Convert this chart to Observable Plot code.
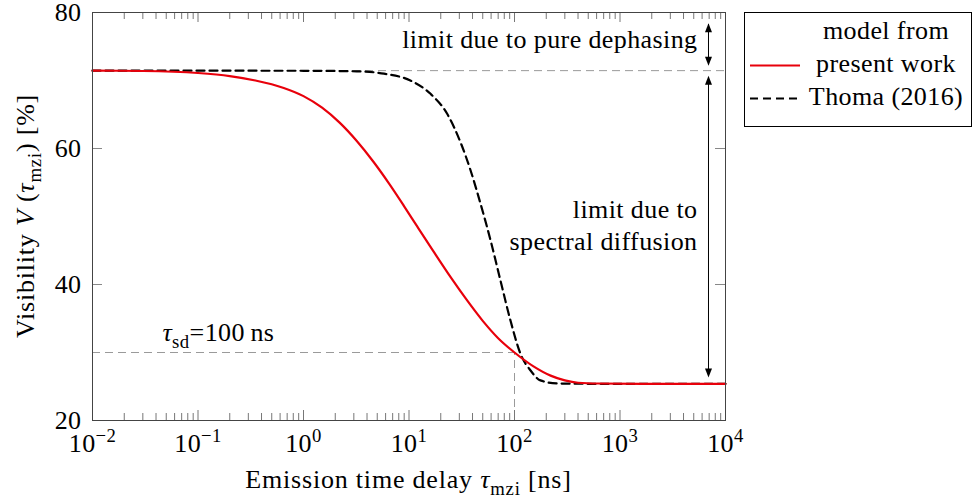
<!DOCTYPE html>
<html>
<head>
<meta charset="utf-8">
<script src="https://cdn.jsdelivr.net/npm/d3@7"></script>
<script src="https://cdn.jsdelivr.net/npm/@observablehq/plot@0.6"></script>
<style>
  body { margin: 0; background: #fff; }
  #wrap { position: relative; width: 973px; height: 501px; font-family: "Liberation Serif", serif; }
  #legend { position: absolute; left: 744px; top: 12px; }
</style>
</head>
<body>
<div id="wrap"></div>
<script>
// Visibility vs. emission time delay (τ in ns, V in %)
const tauModel = [0.01, 0.03, 0.1, 0.2, 0.35, 0.65, 1.0, 1.5, 2.2, 3.2, 4.6, 6.5, 9, 12, 17, 25, 35, 50, 70, 100, 150, 220, 300, 400, 630, 1600, 10000];
const visModel = [71.45, 71.4, 71.1, 70.65, 70.0, 68.9, 67.7, 66.0, 63.8, 61.1, 58.05, 54.8, 51.5, 48.5, 44.9, 41.0, 37.8, 34.65, 32.1, 30.0, 28.0, 26.6, 25.9, 25.55, 25.44, 25.4, 25.4];

const tauThoma = [0.01, 1, 3.2, 5.8, 10.3, 16, 23, 30.8, 38.3, 47.6, 59.3, 73.6, 91.6, 114, 142, 176, 251, 500, 10000];
const visThoma = [71.45, 71.43, 71.35, 71.0, 70.0, 68.04, 65.1, 60.9, 56.8, 51.9, 46.5, 40.6, 34.7, 29.8, 27.35, 25.9, 25.45, 25.4, 25.4];

const xTicks = [1e-2, 1e-1, 1e0, 1e1, 1e2, 1e3, 1e4];
const yTicks = [20, 40, 60, 80];
const xMinor = xTicks.slice(0, -1).flatMap(d => [2, 3, 4, 5, 6, 7, 8, 9].map(k => k * d));

const V0 = visModel[0];                     // limit due to pure dephasing
const Vinf = visModel[visModel.length - 1]; // long-delay plateau
const tauSD = 100;
const VatSD = visModel[tauModel.indexOf(tauSD)];
const arrowTau = 6900;
const [xMin, xMax] = [1e-2, 1e4];
const [yMin, yMax] = [20, 80];

const model = tauModel.map((t, i) => ({t, v: visModel[i]}));
const thoma = tauThoma.map((t, i) => ({t, v: visThoma[i]}));

const FS = 26;
const gray = "#9a9a9a";
const red = "#e8000b";

const plot = Plot.plot({
  width: 973,
  height: 501,
  marginLeft: 92,
  marginRight: 248,
  marginTop: 12,
  marginBottom: 81,
  style: {fontFamily: "Liberation Serif", fontSize: FS + "px", letterSpacing: "0.4px", color: "black", background: "white", overflow: "visible"},
  x: {type: "log", domain: [xMin, xMax], ticks: xTicks, tickSize: 0, tickPadding: 13,
      tickFormat: d => "10^" + Math.round(Math.log10(d)), label: null},
  y: {domain: [yMin, yMax], ticks: yTicks, tickSize: 0, tickPadding: 11, label: null},
  marks: [
    // reference levels
    Plot.ruleY([V0], {x1: xMin, x2: xMax, stroke: gray, strokeDasharray: "8,5"}),
    Plot.ruleY([VatSD], {x1: xMin, x2: tauSD, stroke: gray, strokeDasharray: "8,5"}),
    Plot.ruleX([tauSD], {y1: yMin, y2: VatSD, stroke: gray, strokeDasharray: "8,5"}),

    // curves
    Plot.line(thoma, {x: "t", y: "v", stroke: "black", strokeWidth: 2.2, strokeDasharray: "8,5", curve: "monotone-x"}),
    Plot.line(model, {x: "t", y: "v", stroke: red, strokeWidth: 2.2, curve: "monotone-x"}),

    // frame and inward ticks
    Plot.ruleX(xTicks, {y1: yMin, y2: yMin, insetBottom: 10, stroke: "#777"}),
    Plot.ruleX(xTicks, {y1: yMax, y2: yMax, insetTop: 10, stroke: "#777"}),
    Plot.ruleX(xMinor, {y1: yMin, y2: yMin, insetBottom: 7, stroke: "#777"}),
    Plot.ruleX(xMinor, {y1: yMax, y2: yMax, insetTop: 7, stroke: "#777"}),
    Plot.ruleY(yTicks, {x1: xMin, x2: xMin, insetRight: -10, stroke: "#888"}),
    Plot.ruleY(yTicks, {x1: xMax, x2: xMax, insetLeft: -10, stroke: "#888"}),
    Plot.frame({stroke: "#444"}),

    // double arrows marking the two limits
    Plot.ruleX([arrowTau], {y1: yMax, y2: V0, insetTop: 12, insetBottom: 7, stroke: "black"}),
    Plot.ruleX([arrowTau], {y1: V0, y2: Vinf, insetTop: 7, insetBottom: 8, stroke: "black"}),
    Plot.vector([{x: arrowTau, y: yMax}], {x: "x", y: "y", dy: 10.7, rotate: 0, length: 9, r: 3.5, shape: "spike", anchor: "end", fill: "black", stroke: "none"}),
    Plot.vector([{x: arrowTau, y: V0}], {x: "x", y: "y", dy: -5, rotate: 180, length: 9, r: 3.5, shape: "spike", anchor: "end", fill: "black", stroke: "none"}),
    Plot.vector([{x: arrowTau, y: V0}], {x: "x", y: "y", dy: 5, rotate: 0, length: 9, r: 3.5, shape: "spike", anchor: "end", fill: "black", stroke: "none"}),
    Plot.vector([{x: arrowTau, y: Vinf}], {x: "x", y: "y", dy: -6.3, rotate: 180, length: 9, r: 3.5, shape: "spike", anchor: "end", fill: "black", stroke: "none"}),

    // annotations
    Plot.text([{x: arrowTau, y: (yMax + V0) / 2}], {x: "x", y: "y", text: () => "limit due to pure dephasing", textAnchor: "end", dx: -11, dy: -2}),
    Plot.text([{x: arrowTau, y: 48.9}], {x: "x", y: "y", text: () => "limit due to\nspectral diffusion", textAnchor: "end", dx: -11, lineHeight: 1.2}),
    Plot.text([{x: 0.156, y: 32.9}], {x: "x", y: "y", text: () => "τsd=100\u2009ns"})
  ]
});

// Build mixed-style text (italic symbols, sub/superscripts) inside an SVG text element
function rich(el, segs, base) {
  const t = d3.select(el);
  t.text(null);
  let shift = 0;
  for (const s of segs) {
    const sp = t.append("tspan").text(s.t);
    const target = s.sub ? base * 0.25 : s.sup ? -base * 0.38 : 0;
    if (target !== shift) { sp.attr("dy", target - shift); shift = target; }
    if (s.sub || s.sup) sp.attr("font-size", base * 0.72);
    if (s.i) sp.attr("font-style", "italic");
  }
}

const svg = d3.select(plot);

// x tick labels as powers of ten
svg.selectAll('g[aria-label="x-axis tick label"] text').each(function () {
  const exp = this.textContent.split("^")[1].replace("-", "\u2212");
  rich(this, [{t: "10"}, {t: exp, sup: true}], FS);
});

// τ_sd annotation
svg.selectAll("text").filter(function () { return this.textContent.startsWith("τsd"); }).each(function () {
  rich(this, [{t: "τ", i: true}, {t: "sd", sub: true}, {t: "=100\u2009ns"}], FS);
});

// axis titles
const xl = svg.append("text").attr("x", 408.5).attr("y", 488).attr("text-anchor", "middle")
  .style("letter-spacing", "0.8px").node();
rich(xl, [{t: "Emission time delay "}, {t: "τ", i: true}, {t: "mzi", sub: true}, {t: " [ns]"}], FS);
const yl = svg.append("text").attr("transform", "translate(34,216) rotate(-90)").attr("text-anchor", "middle")
  .style("letter-spacing", "0.8px").node();
rich(yl, [{t: "Visibility "}, {t: "V", i: true}, {t: " ("}, {t: "τ", i: true}, {t: "mzi", sub: true}, {t: ") [%]"}], FS);

const wrap = document.getElementById("wrap");
wrap.appendChild(plot);

// legend box to the right of the axes
const leg = d3.select(wrap).append("svg").attr("id", "legend").attr("width", 229).attr("height", 116)
  .style("font-family", "Liberation Serif").style("font-size", FS + "px").style("letter-spacing", "0.4px");
leg.append("rect").attr("x", 0.5).attr("y", 0.5).attr("width", 227).attr("height", 114)
  .attr("fill", "white").attr("stroke", "black");
const entries = [
  {label: "model from", y: 27},
  {label: "present work", y: 60, stroke: red, dash: null},
  {label: "Thoma (2016)", y: 93, stroke: "black", dash: "8,5"}
];
for (const e of entries) {
  leg.append("text").attr("x", 142).attr("y", e.y).attr("text-anchor", "middle").text(e.label);
  if (e.stroke) {
    leg.append("line").attr("x1", 6).attr("x2", 56).attr("y1", e.y - 6.5).attr("y2", e.y - 6.5)
      .attr("stroke", e.stroke).attr("stroke-width", 2).attr("stroke-dasharray", e.dash);
  }
}
</script>
</body>
</html>
